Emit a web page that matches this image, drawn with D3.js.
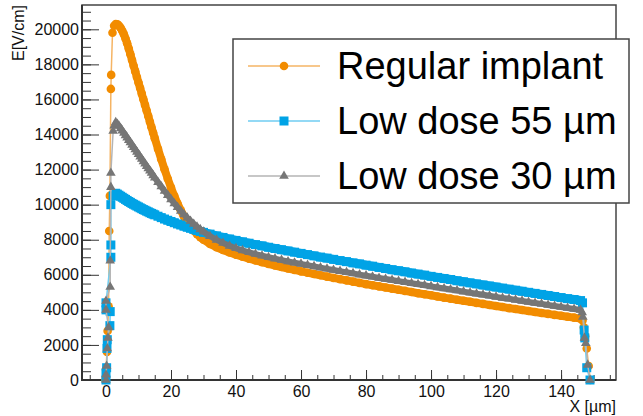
<!DOCTYPE html>
<html>
<head>
<meta charset="utf-8">
<script src="https://cdn.jsdelivr.net/npm/d3@7"></script>
<style>
body { margin: 0; background: #fff; }
svg { font-family: "Liberation Sans", Arial, sans-serif; }
</style>
</head>
<body>
<svg width="643" height="416"></svg>
<script>
// tail grid (x in um), shared by the three series
const xGrid = [3, 3.5, 4, 4.5, 5, 5.5, 6, 6.5, 7, 7.5, 8, 8.5, 9, 9.5, 10, 10.5, 11, 11.5, 12, 12.5, 13, 13.5, 14, 14.5, 15,
  16, 17, 18, 19, 20, 21, 22, 23, 24, 25, 26, 27, 28, 29, 30,
  32, 34, 36, 38, 40, 42, 44, 46, 48, 50, 52, 54, 56, 58, 60, 62, 64, 66, 68, 70, 72, 74, 76, 78, 80,
  82, 84, 86, 88, 90, 92, 94, 96, 98, 100, 102, 104, 106, 108, 110, 112, 114, 116, 118, 120,
  122, 124, 126, 128, 130, 132, 134, 136, 138, 140, 142, 144, 146];

const eRegular = [20300, 20280, 20200, 20080, 19920, 19720, 19480, 19200, 18900, 18580, 18250, 17920, 17600, 17280, 16960, 16650, 16330, 16010, 15690, 15370, 15050, 14730, 14410, 14100, 13790,
  13180, 12590, 12020, 11480, 10970, 10500, 10070, 9680, 9330, 9020, 8750, 8520, 8320, 8150, 8000,
  7760, 7570, 7410, 7270, 7150, 7030, 6920, 6815, 6715, 6620, 6530, 6445, 6360, 6275, 6195, 6120, 6045, 5970, 5895, 5820, 5750, 5680, 5610, 5540, 5470,
  5405, 5340, 5275, 5210, 5145, 5080, 5015, 4950, 4890, 4830, 4765, 4700, 4640, 4580, 4520, 4460, 4400, 4340, 4280, 4220,
  4160, 4100, 4045, 3990, 3935, 3880, 3825, 3770, 3715, 3660, 3610, 3555, 3500];

const eLow55 = [10650, 10600, 10540, 10480, 10420, 10360, 10300, 10240, 10180, 10130, 10070, 10020, 9970, 9920, 9870, 9820, 9770, 9720, 9680, 9630, 9590, 9540, 9500, 9460, 9420,
  9340, 9260, 9180, 9110, 9040, 8970, 8900, 8840, 8770, 8710, 8650, 8590, 8530, 8470, 8420,
  8320, 8220, 8130, 8040, 7960, 7880, 7800, 7720, 7650, 7570, 7500, 7430, 7360, 7290, 7220, 7150, 7080, 7010, 6950, 6880, 6810, 6750, 6680, 6620, 6550,
  6490, 6420, 6360, 6290, 6230, 6170, 6100, 6040, 5980, 5910, 5850, 5790, 5730, 5660, 5600, 5540, 5480, 5420, 5360, 5300,
  5240, 5180, 5120, 5060, 5000, 4940, 4880, 4820, 4760, 4700, 4640, 4590, 4530];

const eLow30 = [14700, 14600, 14480, 14350, 14220, 14090, 13950, 13820, 13680, 13550, 13410, 13270, 13140, 13000, 12870, 12730, 12600, 12460, 12330, 12190, 12060, 11930, 11800, 11670, 11540,
  11280, 11030, 10780, 10540, 10300, 10070, 9850, 9640, 9440, 9250, 9070, 8900, 8740, 8590, 8450,
  8200, 7990, 7810, 7650, 7510, 7390, 7280, 7180, 7090, 7000, 6920, 6840, 6760, 6690, 6620, 6550, 6480, 6410, 6340, 6270, 6210, 6140, 6080, 6010, 5950,
  5890, 5820, 5760, 5700, 5640, 5580, 5520, 5460, 5400, 5340, 5280, 5220, 5160, 5100, 5040, 4980, 4920, 4860, 4800, 4740,
  4680, 4630, 4570, 4510, 4450, 4390, 4340, 4280, 4220, 4160, 4110, 4050, 3990];

// rising edge near x = 0 and falling edge near x = 149
const riseRegularX = [-0.2, 0, 0.3, 0.5, 0.8, 1.0, 1.2, 1.5, 1.6, 2.0, 2.5];
const riseRegularE = [0, 600, 1600, 2800, 4200, 8500, 10500, 16600, 17400, 19800, 20200];
const dropRegularX = [146.6, 147, 147.4, 147.9, 148.5, 149];
const dropRegularE = [3400, 3000, 2500, 1800, 800, 0];

const riseLow55X = [0, 0, 0.2, 0.3, 0.4, 1.2, 1.3, 0, 0, 1.5, 1.5, 1.5, 2.2];
const riseLow55E = [0, 400, 700, 1800, 2300, 3100, 3900, 4000, 4400, 7000, 7700, 10000, 10500];
const dropLow55X = [146.6, 147.1, 147.3, 147.9, 148.9];
const dropLow55E = [4400, 2850, 2400, 700, 0];

const riseLow30X = [0, 0, 0.2, 0.4, 0.6, 0.8, 0, 0, 1.3, 1.3, 1.5, 1.5, 2.2, 2.5];
const riseLow30E = [0, 300, 800, 1800, 2400, 3000, 4000, 4500, 5300, 6800, 11000, 11800, 14200, 14500];
const dropLow30X = [146.5, 146.7, 147.2, 147.6, 148.2, 148.9];
const dropLow30E = [3850, 3600, 2400, 2100, 860, 0];

const legendNames = ["Regular implant", "Low dose 55 \u00b5m", "Low dose 30 \u00b5m"];
const xTicks = [0, 20, 40, 60, 80, 100, 120, 140];
const yTicks = [0, 2000, 4000, 6000, 8000, 10000, 12000, 14000, 16000, 18000, 20000];

const colors = ["#f28c00", "#00a3e6", "#767676"];
const lineColors = ["#f5b464", "#6fcdf2", "#b4b4b4"];
const bandWidth = [8, 9, 6];

function build(rx, re, tail, dx, de) {
  const pts = [];
  rx.forEach((x, i) => pts.push({x: x, e: re[i]}));
  xGrid.forEach((x, i) => pts.push({x: x, e: tail[i], tail: true}));
  dx.forEach((x, i) => pts.push({x: x, e: de[i]}));
  return pts;
}

const series = [
  build(riseRegularX, riseRegularE, eRegular, dropRegularX, dropRegularE),
  build(riseLow55X, riseLow55E, eLow55, dropLow55X, dropLow55E),
  build(riseLow30X, riseLow30E, eLow30, dropLow30X, dropLow30E)
];

const pLeft = 82, pRight = 616, pTop = 5, pBottom = 380;
const x = d3.scaleLinear().domain([-7.38, 156.9]).range([pLeft, pRight]);
const y = d3.scaleLinear().domain([0, 21386]).range([pBottom, pTop]);

const svg = d3.select("svg");

// minor ticks
svg.append("g")
  .attr("transform", "translate(" + pLeft + ",0)")
  .call(d3.axisLeft(y).tickValues(d3.range(0, 21001, 500)).tickSize(-9).tickFormat(""))
  .call(g => g.select(".domain").remove())
  .selectAll("line").attr("stroke", "#333");
svg.append("g")
  .attr("transform", "translate(0," + pBottom + ")")
  .call(d3.axisBottom(x).tickValues(d3.range(-5, 156, 5)).tickSize(-5).tickFormat(""))
  .call(g => g.select(".domain").remove())
  .selectAll("line").attr("stroke", "#333");

// major ticks + labels
const yAxis = svg.append("g")
  .attr("transform", "translate(" + pLeft + ",0)")
  .call(d3.axisLeft(y).tickValues(yTicks).tickSize(-17).tickPadding(3).tickFormat(d3.format("d")));
yAxis.select(".domain").remove();
yAxis.selectAll("line").attr("stroke", "#333");
yAxis.selectAll("text").attr("font-family", "Liberation Sans, Arial, sans-serif").attr("font-size", 16).attr("fill", "#111");

const xAxis = svg.append("g")
  .attr("transform", "translate(0," + pBottom + ")")
  .call(d3.axisBottom(x).tickValues(xTicks).tickSize(-10).tickPadding(6).tickFormat(d3.format("d")));
xAxis.select(".domain").remove();
xAxis.selectAll("line").attr("stroke", "#333");
xAxis.selectAll("text").attr("font-family", "Liberation Sans, Arial, sans-serif").attr("font-size", 16).attr("fill", "#111");

// frame
svg.append("rect")
  .attr("x", pLeft).attr("y", pTop)
  .attr("width", pRight - pLeft).attr("height", pBottom - pTop)
  .attr("fill", "none").attr("stroke", "#444").attr("stroke-width", 1.5);
svg.append("line").attr("x1", pLeft).attr("x2", pLeft).attr("y1", pTop).attr("y2", pBottom + 1)
  .attr("stroke", "#333").attr("stroke-width", 2);
svg.append("line").attr("x1", pLeft - 1).attr("x2", pRight).attr("y1", pBottom).attr("y2", pBottom)
  .attr("stroke", "#333").attr("stroke-width", 2);

const line = d3.line().x(d => x(d.x)).y(d => y(d.e));

function drawMarker(sel, k) {
  if (k === 0) {
    sel.append("circle").attr("r", 4.3).attr("fill", colors[0]);
  } else if (k === 1) {
    sel.append("rect").attr("x", -4.5).attr("y", -4.5).attr("width", 9).attr("height", 9).attr("fill", colors[1]);
  } else {
    sel.append("path").attr("d", d3.symbol(d3.symbolTriangle, 40)()).attr("fill", colors[2]);
  }
}

series.forEach((pts, k) => {
  const g = svg.append("g");
  g.append("path").datum(pts)
    .attr("d", line)
    .attr("fill", "none")
    .attr("stroke", lineColors[k])
    .attr("stroke-width", 1.5);
  // dense markers merge into a band along the smooth part
  g.append("path").datum(pts.filter(d => d.tail))
    .attr("d", line)
    .attr("fill", "none")
    .attr("stroke", colors[k])
    .attr("stroke-width", bandWidth[k])
    .attr("stroke-linejoin", "round");
  g.selectAll("g.m").data(pts).enter().append("g")
    .attr("class", "m")
    .attr("transform", d => "translate(" + x(d.x) + "," + y(d.e) + ")")
    .each(function() { drawMarker(d3.select(this), k); });
});

// axis titles
svg.append("text")
  .attr("transform", "translate(24,5) rotate(-90)")
  .attr("text-anchor", "end")
  .attr("font-size", 16)
  .attr("fill", "#111")
  .text("E[V/cm]");
svg.append("text")
  .attr("x", pRight).attr("y", 412)
  .attr("text-anchor", "end")
  .attr("font-size", 16)
  .attr("fill", "#111")
  .text("X [\u00b5m]");

// legend
const legend = svg.append("g");
legend.append("rect")
  .attr("x", 233).attr("y", 39).attr("width", 396).attr("height", 164)
  .attr("fill", "#fff").attr("stroke", "#444").attr("stroke-width", 1.5);
const rowY = [66, 121, 176];
legendNames.forEach((name, k) => {
  const row = legend.append("g").attr("transform", "translate(0," + rowY[k] + ")");
  row.append("line").attr("x1", 248).attr("x2", 320)
    .attr("stroke", lineColors[k]).attr("stroke-width", 1.5);
  drawMarker(row.append("g").attr("transform", "translate(284,0)"), k);
  row.append("text")
    .attr("x", 337).attr("y", 12.5)
    .attr("font-size", 38)
    .attr("fill", "#000")
    .text(name);
});
</script>
</body>
</html>
